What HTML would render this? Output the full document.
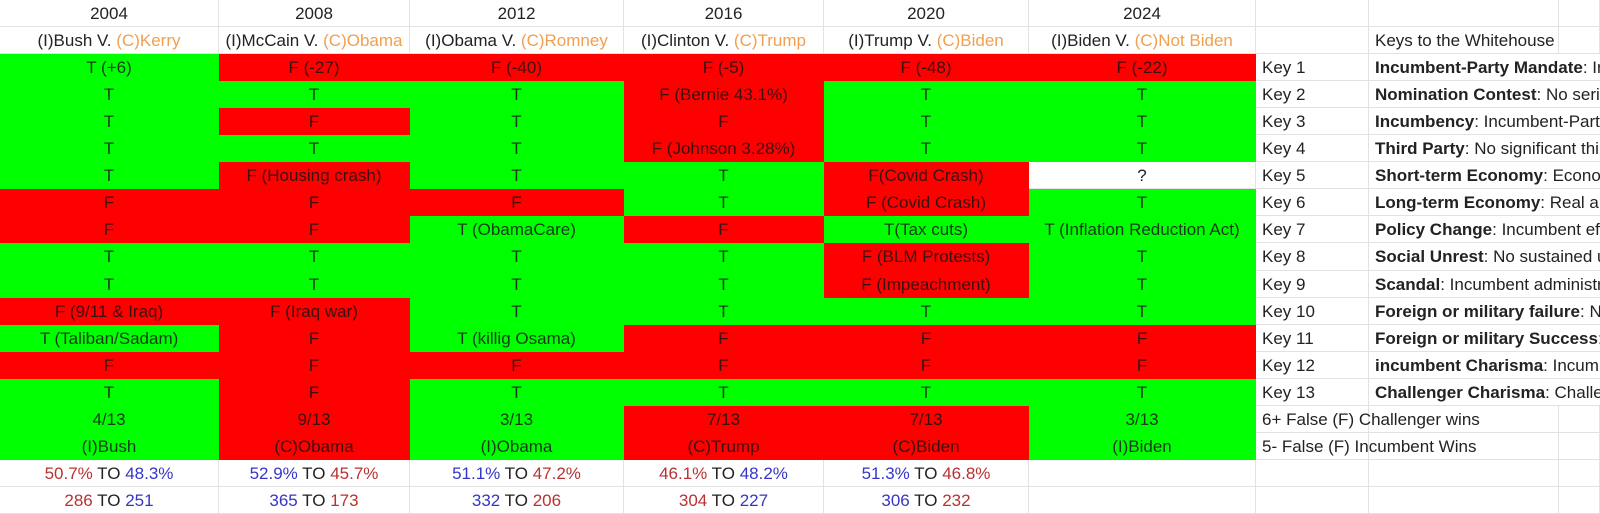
<!DOCTYPE html>
<html><head><meta charset="utf-8">
<style>
html,body{margin:0;padding:0;width:1600px;height:514px;overflow:hidden;background:#fff;font-family:"Liberation Sans",Arial,sans-serif;}
#sheet{position:relative;width:1600px;height:514px;overflow:hidden;}
.c{position:absolute;box-sizing:border-box;font-size:17px;color:#222;line-height:27px;white-space:nowrap;overflow:visible;border-right:1px solid #e2e2e2;border-bottom:1px solid #e2e2e2;}
.ctr{text-align:center;}
.g{background:#00ff00;border-color:#00ff00;color:#1a3a1a;}
.r{background:#ff0000;border-color:#ff0000;color:#3a1010;}
.o{color:#f0a050;}
.rd{color:#b83232;}
.bl{color:#3535c8;}
.lbl{padding-left:6px;}
</style></head>
<body>
<div id="sheet"></div>
<script>
const colX=[0,219,410,624,824,1029,1256,1369,1559,1600];
const rowH=27.05;
const years=["2004","2008","2012","2016","2020","2024"];
const incumbents=["(I)Bush V. ","(I)McCain V. ","(I)Obama V. ","(I)Clinton V. ","(I)Trump V. ","(I)Biden V. "];
const challengers=["(C)Kerry","(C)Obama","(C)Romney","(C)Trump","(C)Biden","(C)Not Biden"];
const cells=[
["T (+6)","T","T","T","T","F","F","T","T","F (9/11 & Iraq)","T (Taliban/Sadam)","F","T","4/13","(I)Bush"],
["F (-27)","T","F","T","F (Housing crash)","F","F","T","T","F (Iraq war)","F","F","F","9/13","(C)Obama"],
["F (-40)","T","T","T","T","F","T (ObamaCare)","T","T","T","T (killig Osama)","F","T","3/13","(I)Obama"],
["F (-5)","F (Bernie 43.1%)","F","F (Johnson 3.28%)","T","T","F","T","T","T","F","F","T","7/13","(C)Trump"],
["F (-48)","T","T","T","F(Covid Crash)","F (Covid Crash)","T(Tax cuts)","F (BLM Protests)","F (Impeachment)","T","F","F","T","7/13","(C)Biden"],
["F (-22)","T","T","T","?","T","T (Inflation Reduction Act)","T","T","T","F","F","T","3/13","(I)Biden"]
];
const colors=[
"GGGGGRRGGRGRGGG","RGRGRRRGGRRRRRR","RGGGGRGGGGGRGGG","RRRRGGRGGGRRGRR","RGGGRRGRRGRRGRR","RGGGWGGGGGRRGGG"];
const popular=[["50.7%","rd","48.3%","bl"],["52.9%","bl","45.7%","rd"],["51.1%","bl","47.2%","rd"],["46.1%","rd","48.2%","bl"],["51.3%","bl","46.8%","rd"]];
const electoral=[["286","rd","251","bl"],["365","bl","173","rd"],["332","bl","206","rd"],["304","rd","227","bl"],["306","bl","232","rd"]];
const keyNames=["Incumbent-Party Mandate","Nomination Contest","Incumbency","Third Party","Short-term Economy","Long-term Economy","Policy Change","Social Unrest","Scandal","Foreign or military failure","Foreign or military Success","incumbent Charisma","Challenger Charisma"];
const keyDesc=["Incumbent party gained seats","No serious contest","Incumbent-Party candidate is sitting president","No significant third party","Economy not in recession","Real annual growth","Incumbent effects major change","No sustained unrest","Incumbent administration untainted","No major failure","Major success achieved","Incumbent is charismatic","Challenger is not charismatic"];
const notes=["6+ False (F) Challenger wins","5- False (F) Incumbent Wins"];

const sheet=document.getElementById('sheet');
function cell(ci,ri,span,html,cls){
  const d=document.createElement('div');
  d.className='c '+(cls||'');
  d.style.left=colX[ci]+'px';
  d.style.width=(colX[ci+span]-colX[ci])+'px';
  d.style.top=Math.round(ri*rowH)+'px';
  d.style.height=(Math.round((ri+1)*rowH)-Math.round(ri*rowH))+'px';
  d.innerHTML=html;
  sheet.appendChild(d);
  return d;
}
const totalRows=19;
for(let r=0;r<totalRows;r++){for(let c=0;c<9;c++){
  const d=cell(c,r,1,'','');
  
  
}}
years.forEach((y,i)=>{
  const h=cell(i,0,1,y,'ctr');
  
  
  const m=cell(i,1,1,incumbents[i]+'<span class="o">'+challengers[i]+'</span>','ctr');
  
  
  for(let k=0;k<15;k++){
    const col=colors[i][k];
    const cls='ctr '+(col==='G'?'g':col==='R'?'r':'');
    const d=cell(i,k+2,1,cells[i][k],cls);
    
    
  }
  if(i<popular.length){
    const p=popular[i],e=electoral[i];
    const pd=cell(i,17,1,'<span class="'+p[1]+'">'+p[0]+'</span> TO <span class="'+p[3]+'">'+p[2]+'</span>','ctr');
    
    
    const ed=cell(i,18,1,'<span class="'+e[1]+'">'+e[0]+'</span> TO <span class="'+e[3]+'">'+e[2]+'</span>','ctr');
    
    
  }
});
const title=cell(7,1,1,'Keys to the Whitehouse','lbl');


keyNames.forEach((n,k)=>{
  const l=cell(6,k+2,1,'Key '+(k+1),'lbl');
  
  
  const d=cell(7,k+2,2,'<b>'+n+'</b>: '+keyDesc[k],'lbl');
  d.style.background='#fff';
  d.style.borderRight='none';
  d.style.zIndex=2;
  
  
});
notes.forEach((t,i)=>{
  const d=cell(6,15+i,1,t,'lbl');
  d.style.borderRight='none';
  
  
});
</script>
</body></html>
